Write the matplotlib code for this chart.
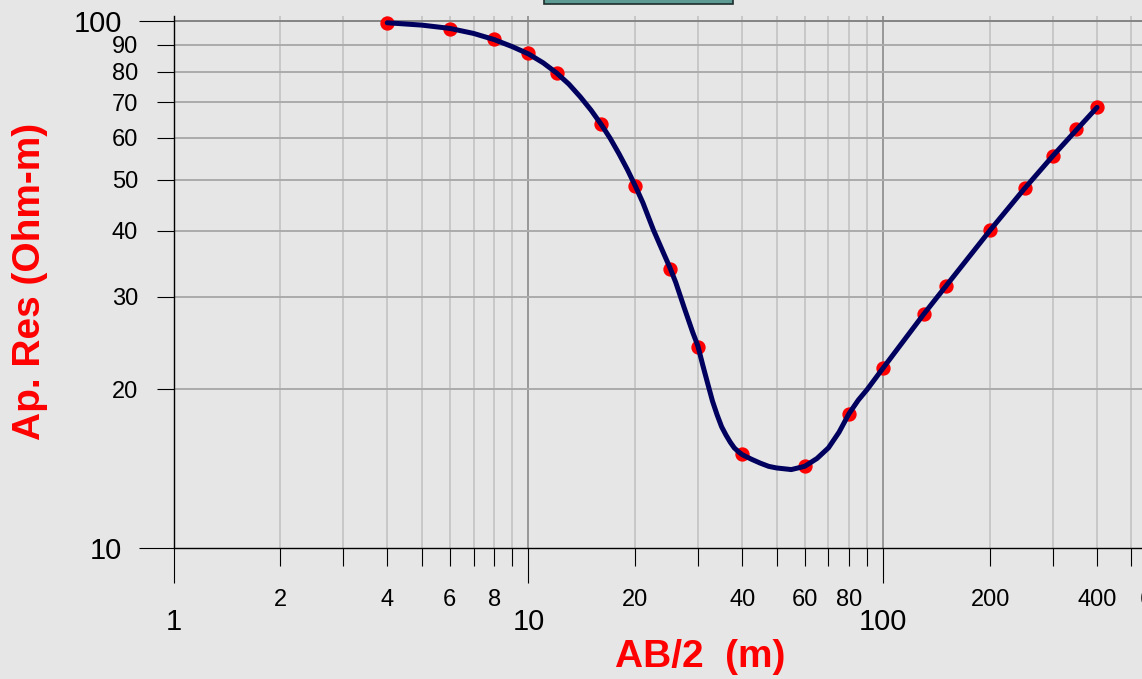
import matplotlib
matplotlib.use('Agg')
import matplotlib.pyplot as plt
from matplotlib.ticker import FixedLocator, FuncFormatter
from matplotlib.patches import Rectangle

plt.rcParams['font.family'] = ['Liberation Sans', 'DejaVu Sans']

# observed sounding data
ab2 = [4, 6, 8, 10, 12, 16, 20, 25, 30, 40, 60, 80, 100, 130, 150, 200, 250, 300, 350, 400]
rho_obs = [99.1, 96.6, 92.3, 86.7, 79.5, 63.6, 48.6, 33.9, 24.1, 15.1, 14.3, 18.0, 22.0,
           27.8, 31.4, 40.1, 48.1, 55.4, 62.2, 68.5]

# model curve
curve_ab2 = [4, 5, 6, 7, 8, 9, 10, 11, 12, 13, 14, 15, 16, 17, 18, 19, 20, 21, 22.5, 24, 25,
             26, 27.5, 29, 30, 31, 32, 33, 34, 35, 36, 37, 38, 39, 40, 42.5, 45, 47.5, 50,
             55, 60, 65, 70, 75, 80, 85, 90, 100, 130, 150, 200, 250, 300, 350, 400]
curve_rho = [99.1, 98.1, 96.7, 94.6, 92.1, 89.3, 86.5, 83.2, 79.6, 75.8, 71.7, 67.7, 63.7,
             59.8, 55.9, 52.2, 48.6, 45.2, 40.1, 36.3, 34.1, 31.9, 28.5, 25.7, 24.2, 22.2,
             20.5, 19.0, 17.9, 17.0, 16.4, 15.9, 15.5, 15.25, 15.05, 14.75, 14.5, 14.3, 14.2,
             14.1, 14.3, 14.8, 15.5, 16.6, 18.0, 19.1, 20.0, 22.0, 27.8, 31.4, 40.1, 48.1,
             55.4, 62.1, 68.5]

x_major = [1, 10, 100]
x_minor = [2, 3, 4, 5, 6, 7, 8, 9, 20, 30, 40, 50, 60, 70, 80, 90, 200, 300, 400, 500, 600]
x_minor_labels = {2: '2', 4: '4', 6: '6', 8: '8', 20: '20', 40: '40', 60: '60', 80: '80',
                  200: '200', 400: '400', 600: '600'}
y_major = [10, 100]
y_minor = [20, 30, 40, 50, 60, 70, 80, 90]

W, H = 1142, 679
fig = plt.figure(figsize=(W / 100, H / 100), dpi=100)
bg = '#e6e6e6'
fig.patch.set_facecolor(bg)

left_px, right_px, top_px, bottom_px = 173.6, 173.6 + 3 * 354.9, 16.0, 548.3
ax = fig.add_axes([left_px / W, (H - bottom_px) / H,
                   (right_px - left_px) / W, (bottom_px - top_px) / H])
ax.set_facecolor(bg)
ax.set_xscale('log')
ax.set_yscale('log')
ax.set_xlim(1, 1000)
ax.set_ylim(10, 10 ** (2 + (20.7 - 16.0) / 527.6))

ax.xaxis.set_major_locator(FixedLocator(x_major))
ax.xaxis.set_minor_locator(FixedLocator(x_minor))
ax.xaxis.set_major_formatter(FuncFormatter(lambda v, p: f'{v:g}'))
ax.xaxis.set_minor_formatter(FuncFormatter(lambda v, p: x_minor_labels.get(int(round(v)), '')))
ax.yaxis.set_major_locator(FixedLocator(y_major))
ax.yaxis.set_minor_locator(FixedLocator(y_minor))
ax.yaxis.set_major_formatter(FuncFormatter(lambda v, p: f'{v:g}'))
ax.yaxis.set_minor_formatter(FuncFormatter(lambda v, p: f'{v:g}'))

ax.tick_params(axis='both', which='major', length=25.2, width=0.8, color='black',
               labelsize=21, pad=12)
ax.tick_params(axis='both', which='minor', length=12.6, width=0.8, color='black',
               labelsize=17, pad=13)
ax.tick_params(axis='x', which='major', pad=18)
ax.tick_params(axis='x', which='minor', pad=16.6)

# grid
ax.grid(False)
for v in x_minor:
    ax.axvline(v, color='#c2c2c2', lw=1.2, zorder=1)
for v in x_major[1:]:
    ax.axvline(v, color='#8a8a8a', lw=1.2, zorder=1)
for v in y_minor:
    ax.axhline(v, color='#ababab', lw=1.4, zorder=1)
ax.axhline(100, color='#848484', lw=1.4, zorder=1)

for s in ['top', 'right']:
    ax.spines[s].set_visible(False)
for s in ['left', 'bottom']:
    ax.spines[s].set_color('black')
    ax.spines[s].set_linewidth(1.0)

ax.plot(ab2, rho_obs, 'o', color='red', markersize=9.3, zorder=3, clip_on=False)
ax.plot(curve_ab2, curve_rho, '-', color='#00005e', lw=3.6, zorder=4,
        solid_capstyle='round', solid_joinstyle='round')

fig.text(700 / W, 1 - 657 / H, 'AB/2  (m)', color='red', fontsize=28, fontweight='bold',
         ha='center', va='center')
fig.text(30 / W, 1 - 281 / H, 'Ap. Res (Ohm-m)', color='red', fontsize=28,
         fontweight='bold', ha='center', va='center', rotation=90)

# title box partly visible at the top edge
fig.patches.append(Rectangle((544 / W, 1 - 3.5 / H), (733 - 544) / W, 20 / H,
                             transform=fig.transFigure, facecolor='#5e9a94',
                             edgecolor='#1e2e2c', lw=1.2))

fig.savefig('out.png', dpi=100, facecolor=bg)
